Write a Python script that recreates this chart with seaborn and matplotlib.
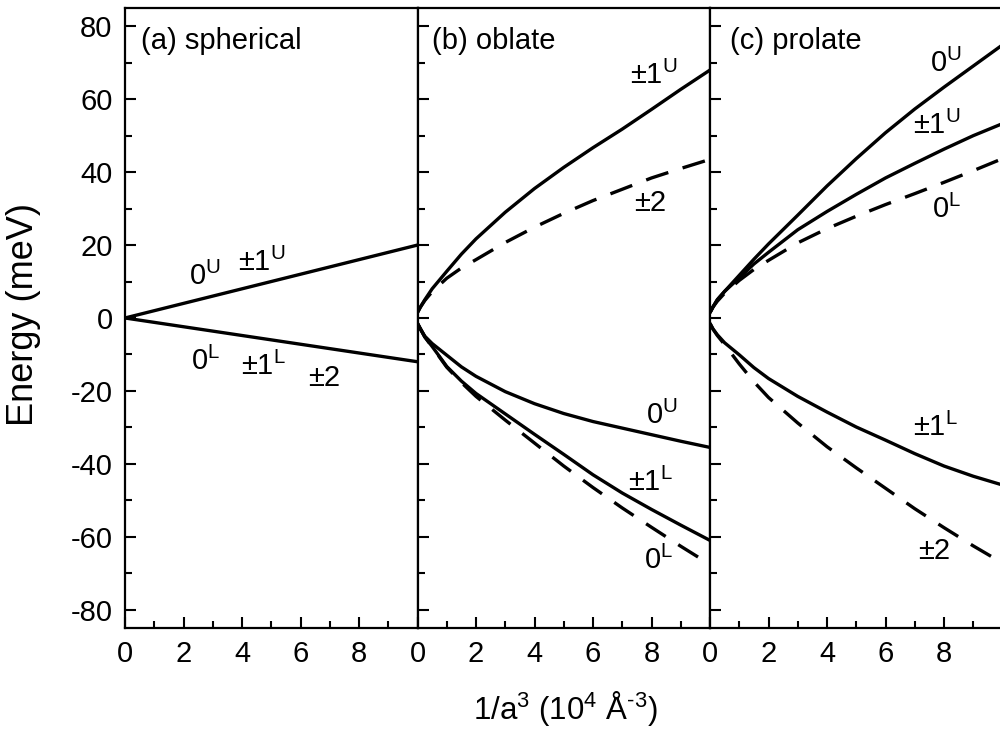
import matplotlib
matplotlib.use('Agg')
import matplotlib.pyplot as plt
from matplotlib.ticker import MultipleLocator
import seaborn as sns

sns.set_theme(style='ticks')
plt.rcParams['font.family'] = ['Liberation Sans', 'DejaVu Sans']
plt.rcParams['mathtext.fontset'] = 'custom'
plt.rcParams['mathtext.rm'] = 'Liberation Sans'
plt.rcParams['mathtext.it'] = 'Liberation Sans:italic'
plt.rcParams['mathtext.bf'] = 'Liberation Sans:bold'
plt.rcParams['text.color'] = 'black'
plt.rcParams['xtick.color'] = 'black'
plt.rcParams['ytick.color'] = 'black'
plt.rcParams['axes.unicode_minus'] = False

# ---- data ----
xa = [0, 10]
a_upper = [0, 20]
a_lower = [0, -12]

xs = [0, 0.1, 0.25, 0.5, 1, 1.5, 2, 3, 4, 5, 6, 7, 8, 9, 10]

# (b) oblate
b_pm1U = [1.5, 3, 5, 8, 12.8, 17.5, 21.7, 29, 35.5, 41.3, 46.7, 51.8, 57.2, 62.7, 68]
b_pm2 = [1.5, 3, 4.8, 7.2, 10.9, 13.7, 16, 20.7, 24.9, 28.7, 32.2, 35.3, 38.4, 41, 43.5]
b_0U = [-1.5, -3, -5, -7, -10.2, -13.4, -16, -20.2, -23.5, -26.2, -28.4, -30.2, -32, -33.8, -35.5]
b_pm1L = [-1.5, -3, -5.2, -7.8, -13.3, -17.3, -20.7, -26.3, -31.9, -37.4, -43, -48, -52.5, -56.8, -61]
b_0L = [-1.5, -3, -5.2, -7.9, -13.5, -17.7, -21.5, -28, -34.3, -40.6, -46.5, -52.1, -57.4, -62.6, -67.6]

# (c) prolate
c_0U = [1.5, 3, 5, 7.3, 11.7, 16.1, 20.3, 28.2, 36.2, 43.7, 50.8, 57.3, 63.3, 69.1, 74.9]
c_pm1U = [1.5, 3, 5, 7.3, 11, 14.8, 18, 24.2, 29.2, 33.9, 38.4, 42.4, 46.3, 50, 53.3]
c_0L = [1.5, 3, 4.6, 6.8, 10.3, 13.3, 15.8, 20.6, 24.5, 27.9, 31.1, 34.1, 37.2, 40.4, 43.7]
c_pm1L = [-1.5, -3, -4.6, -6.8, -10.1, -13.6, -16.6, -21.5, -25.8, -29.9, -33.5, -37.2, -40.6, -43.4, -45.8]
c_pm2 = [-1.5, -3, -4.8, -7.3, -12.6, -17.5, -21.8, -28.8, -35.3, -41.1, -46.7, -52.3, -57.5, -62.5, -67.2]

titles = ['(a) spherical', '(b) oblate', '(c) prolate']
title_x = [0.55, 0.5, 0.68]
xtick_vals = [0, 2, 4, 6, 8, 10]
xtick_labels = ['0', '2', '4', '6', '8', '']

U = r'$^{\mathrm{U}}$'
L = r'$^{\mathrm{L}}$'
labels_a = [('0' + U, 2.74, 11.5), ('±1' + U, 4.69, 15.3),
            ('0' + L, 2.74, -12), ('±1' + L, 4.73, -13.4), ('±2', 6.82, -16.4)]
labels_b = [('±1' + U, 8.08, 66.5), ('±2', 7.95, 31.5), ('0' + U, 8.36, -26.8),
            ('±1' + L, 7.98, -45), ('0' + L, 8.25, -66.4)]
labels_c = [('0' + U, 8.05, 69.7), ('±1' + U, 7.77, 52.8), ('0' + L, 8.08, 29.8),
            ('±1' + L, 7.7, -30), ('±2', 7.67, -64)]

fig = plt.figure(figsize=(10, 7.31), dpi=100)
w = 0.2925
axes = [fig.add_axes([0.125 + i * w, 0.141, w, 0.848]) for i in range(3)]

solid = dict(color='black', linewidth=2.4)
dash = dict(color='black', linewidth=2.4, linestyle=(0, (7, 4.5)))

sns.lineplot(x=xa, y=a_upper, ax=axes[0], **solid)
sns.lineplot(x=xa, y=a_lower, ax=axes[0], **solid)

sns.lineplot(x=xs, y=b_pm1U, ax=axes[1], **solid)
sns.lineplot(x=xs, y=b_pm2, ax=axes[1], **dash)
sns.lineplot(x=xs, y=b_0U, ax=axes[1], **solid)
sns.lineplot(x=xs, y=b_pm1L, ax=axes[1], **solid)
sns.lineplot(x=xs, y=b_0L, ax=axes[1], **dash)

sns.lineplot(x=xs, y=c_0U, ax=axes[2], **solid)
sns.lineplot(x=xs, y=c_pm1U, ax=axes[2], **solid)
sns.lineplot(x=xs, y=c_0L, ax=axes[2], **dash)
sns.lineplot(x=xs, y=c_pm1L, ax=axes[2], **solid)
sns.lineplot(x=xs, y=c_pm2, ax=axes[2], **dash)

for i, ax in enumerate(axes):
    ax.set_xlim(0, 10)
    ax.set_ylim(-85, 85)
    ax.set_xticks(xtick_vals)
    ax.set_xticklabels(xtick_labels)
    ax.xaxis.set_minor_locator(MultipleLocator(1))
    ax.set_yticks(range(-80, 81, 20))
    ax.yaxis.set_minor_locator(MultipleLocator(10))
    ax.tick_params(which='both', direction='in', width=1.5, colors='black',
                   top=False, right=False, labelsize=21, pad=9)
    ax.tick_params(which='major', length=8)
    ax.tick_params(which='minor', length=5)
    if i > 0:
        ax.tick_params(axis='y', labelleft=False)
    for sp in ax.spines.values():
        sp.set_linewidth(1.6)
        sp.set_color('black')
        sp.set_visible(True)
    ax.set_xlabel('')
    ax.set_ylabel('')
    ax.text(title_x[i], 76, titles[i], fontsize=21, ha='left', va='center')

for ax, labs in zip(axes, [labels_a, labels_b, labels_c]):
    for txt, x, y in labs:
        ax.text(x, y, txt, fontsize=21, ha='center', va='center')

fig.text(0.024, 0.570, 'Energy (meV)', fontsize=26, rotation=90, ha='center', va='center')
fig.text(0.565, 0.031, r'1/a$^3$ (10$^4$ Å$^{\text{-3}}$)', fontsize=22.5, ha='center', va='center')

fig.savefig('out.png', dpi=100)
